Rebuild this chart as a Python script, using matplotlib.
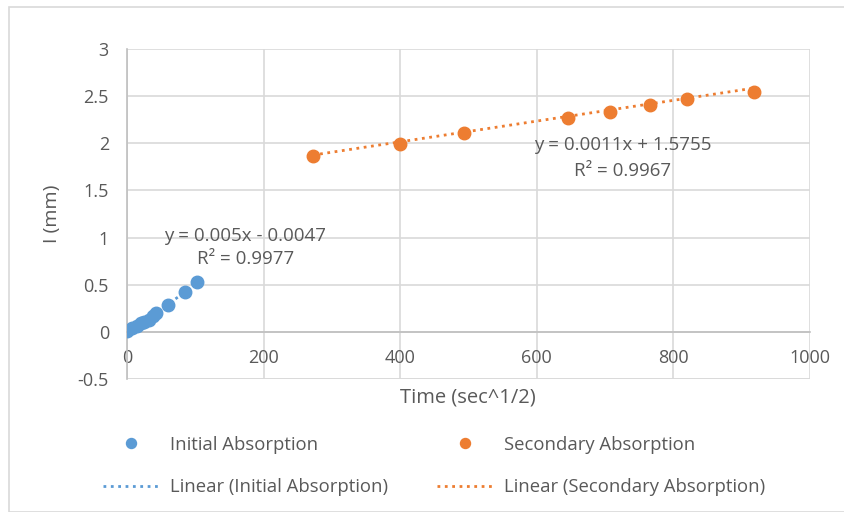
import numpy as np
import matplotlib
matplotlib.use("Agg")
from matplotlib import pyplot as plt
from matplotlib.patches import Rectangle

plt.rcParams['font.family'] = ['Open Sans', 'DejaVu Sans']

# initial absorption
init_x = [0, 8, 14, 20, 25, 32, 38, 42, 60, 85, 103]
init_y = [0.01, 0.04, 0.06, 0.09, 0.10, 0.13, 0.17, 0.20, 0.29, 0.42, 0.53]

# secondary absorption
sec_x = [272, 400, 493, 646, 707, 766, 820, 918]
sec_y = [1.87, 1.99, 2.11, 2.27, 2.33, 2.41, 2.47, 2.54]

init_fit = (0.005, -0.0047)
sec_fit = (0.0011, 1.5755)
init_label = ["y = 0.005x - 0.0047", "R² = 0.9977"]
sec_label = ["y = 0.0011x + 1.5755", "R² = 0.9967"]

blue = '#5b9bd5'
orange = '#ed7d31'
grid_c = '#d9d9d9'
text_c = '#595959'

fig = plt.figure(figsize=(8.44, 5.12), dpi=100)
ax = fig.add_axes([127 / 844, 1 - 379 / 512, (810 - 127) / 844, (379 - 49) / 512])

fig.patches.append(Rectangle((9 / 844, 0), 1, 1 - 7 / 512, transform=fig.transFigure,
                             fill=False, edgecolor=grid_c, lw=1.2, zorder=0))

xs = np.array([min(init_x), max(init_x)])
l1, = ax.plot(xs, init_fit[0] * xs + init_fit[1], ':', color=blue, lw=2, zorder=2)
xs2 = np.array([min(sec_x), max(sec_x)])
l2, = ax.plot(xs2, sec_fit[0] * xs2 + sec_fit[1], ':', color=orange, lw=2, zorder=2)
p1, = ax.plot(init_x, init_y, 'o', color=blue, ms=9, zorder=3)
p2, = ax.plot(sec_x, sec_y, 'o', color=orange, ms=9, zorder=3)

ax.text(173, 1.02, init_label[0], ha='center', va='center', fontsize=13.5, color=text_c)
ax.text(173, 0.77, init_label[1], ha='center', va='center', fontsize=13.5, color=text_c)
ax.text(726, 1.98, sec_label[0], ha='center', va='center', fontsize=13.5, color=text_c)
ax.text(725, 1.71, sec_label[1], ha='center', va='center', fontsize=13.5, color=text_c)

ax.set_xlim(0, 1000)
ax.set_ylim(-0.5, 3)
ax.set_xticks(np.arange(0, 1001, 200))
ax.set_yticks(np.arange(-0.5, 3.01, 0.5))
ax.set_yticklabels(['-0.5', '0', '0.5', '1', '1.5', '2', '2.5', '3'])
ax.grid(True, color=grid_c, lw=1.2)
ax.set_axisbelow(True)
for s in ['top', 'right']:
    ax.spines[s].set_visible(False)
ax.spines['bottom'].set_position(('data', 0))
ax.spines['bottom'].set_color('#bfbfbf')
ax.spines['left'].set_color('#bfbfbf')
ax.spines['bottom'].set_linewidth(1.2)
ax.spines['left'].set_linewidth(1.2)
ax.axhline(-0.5, color=grid_c, lw=1.2, zorder=0)
ax.tick_params(axis='x', length=0, pad=12, labelsize=13, labelcolor=text_c)
ax.tick_params(axis='y', length=0, pad=13, labelsize=13, labelcolor=text_c)

fig.text(468 / 844, 1 - 398 / 512, 'Time (sec^1/2)', ha='center', va='center',
         fontsize=14.5, color=text_c)
fig.text(52 / 844, 1 - 214 / 512, 'I (mm)', ha='center', va='center', rotation=90,
         fontsize=14, color=text_c)

l1.set_label('Linear (Initial Absorption)')
l2.set_label('Linear (Secondary Absorption)')
p1.set_label('Initial Absorption')
p2.set_label('Secondary Absorption')
leg = fig.legend(handles=[p1, l1, p2, l2], ncol=2, loc='center',
                 bbox_to_anchor=(434 / 844, 1 - 466 / 512), frameon=False,
                 fontsize=13.3, labelcolor=text_c, columnspacing=2.7,
                 labelspacing=1.35, handlelength=3.0, handletextpad=0.6,
                 markerscale=0.8)

fig.savefig('out.png', dpi=100)
